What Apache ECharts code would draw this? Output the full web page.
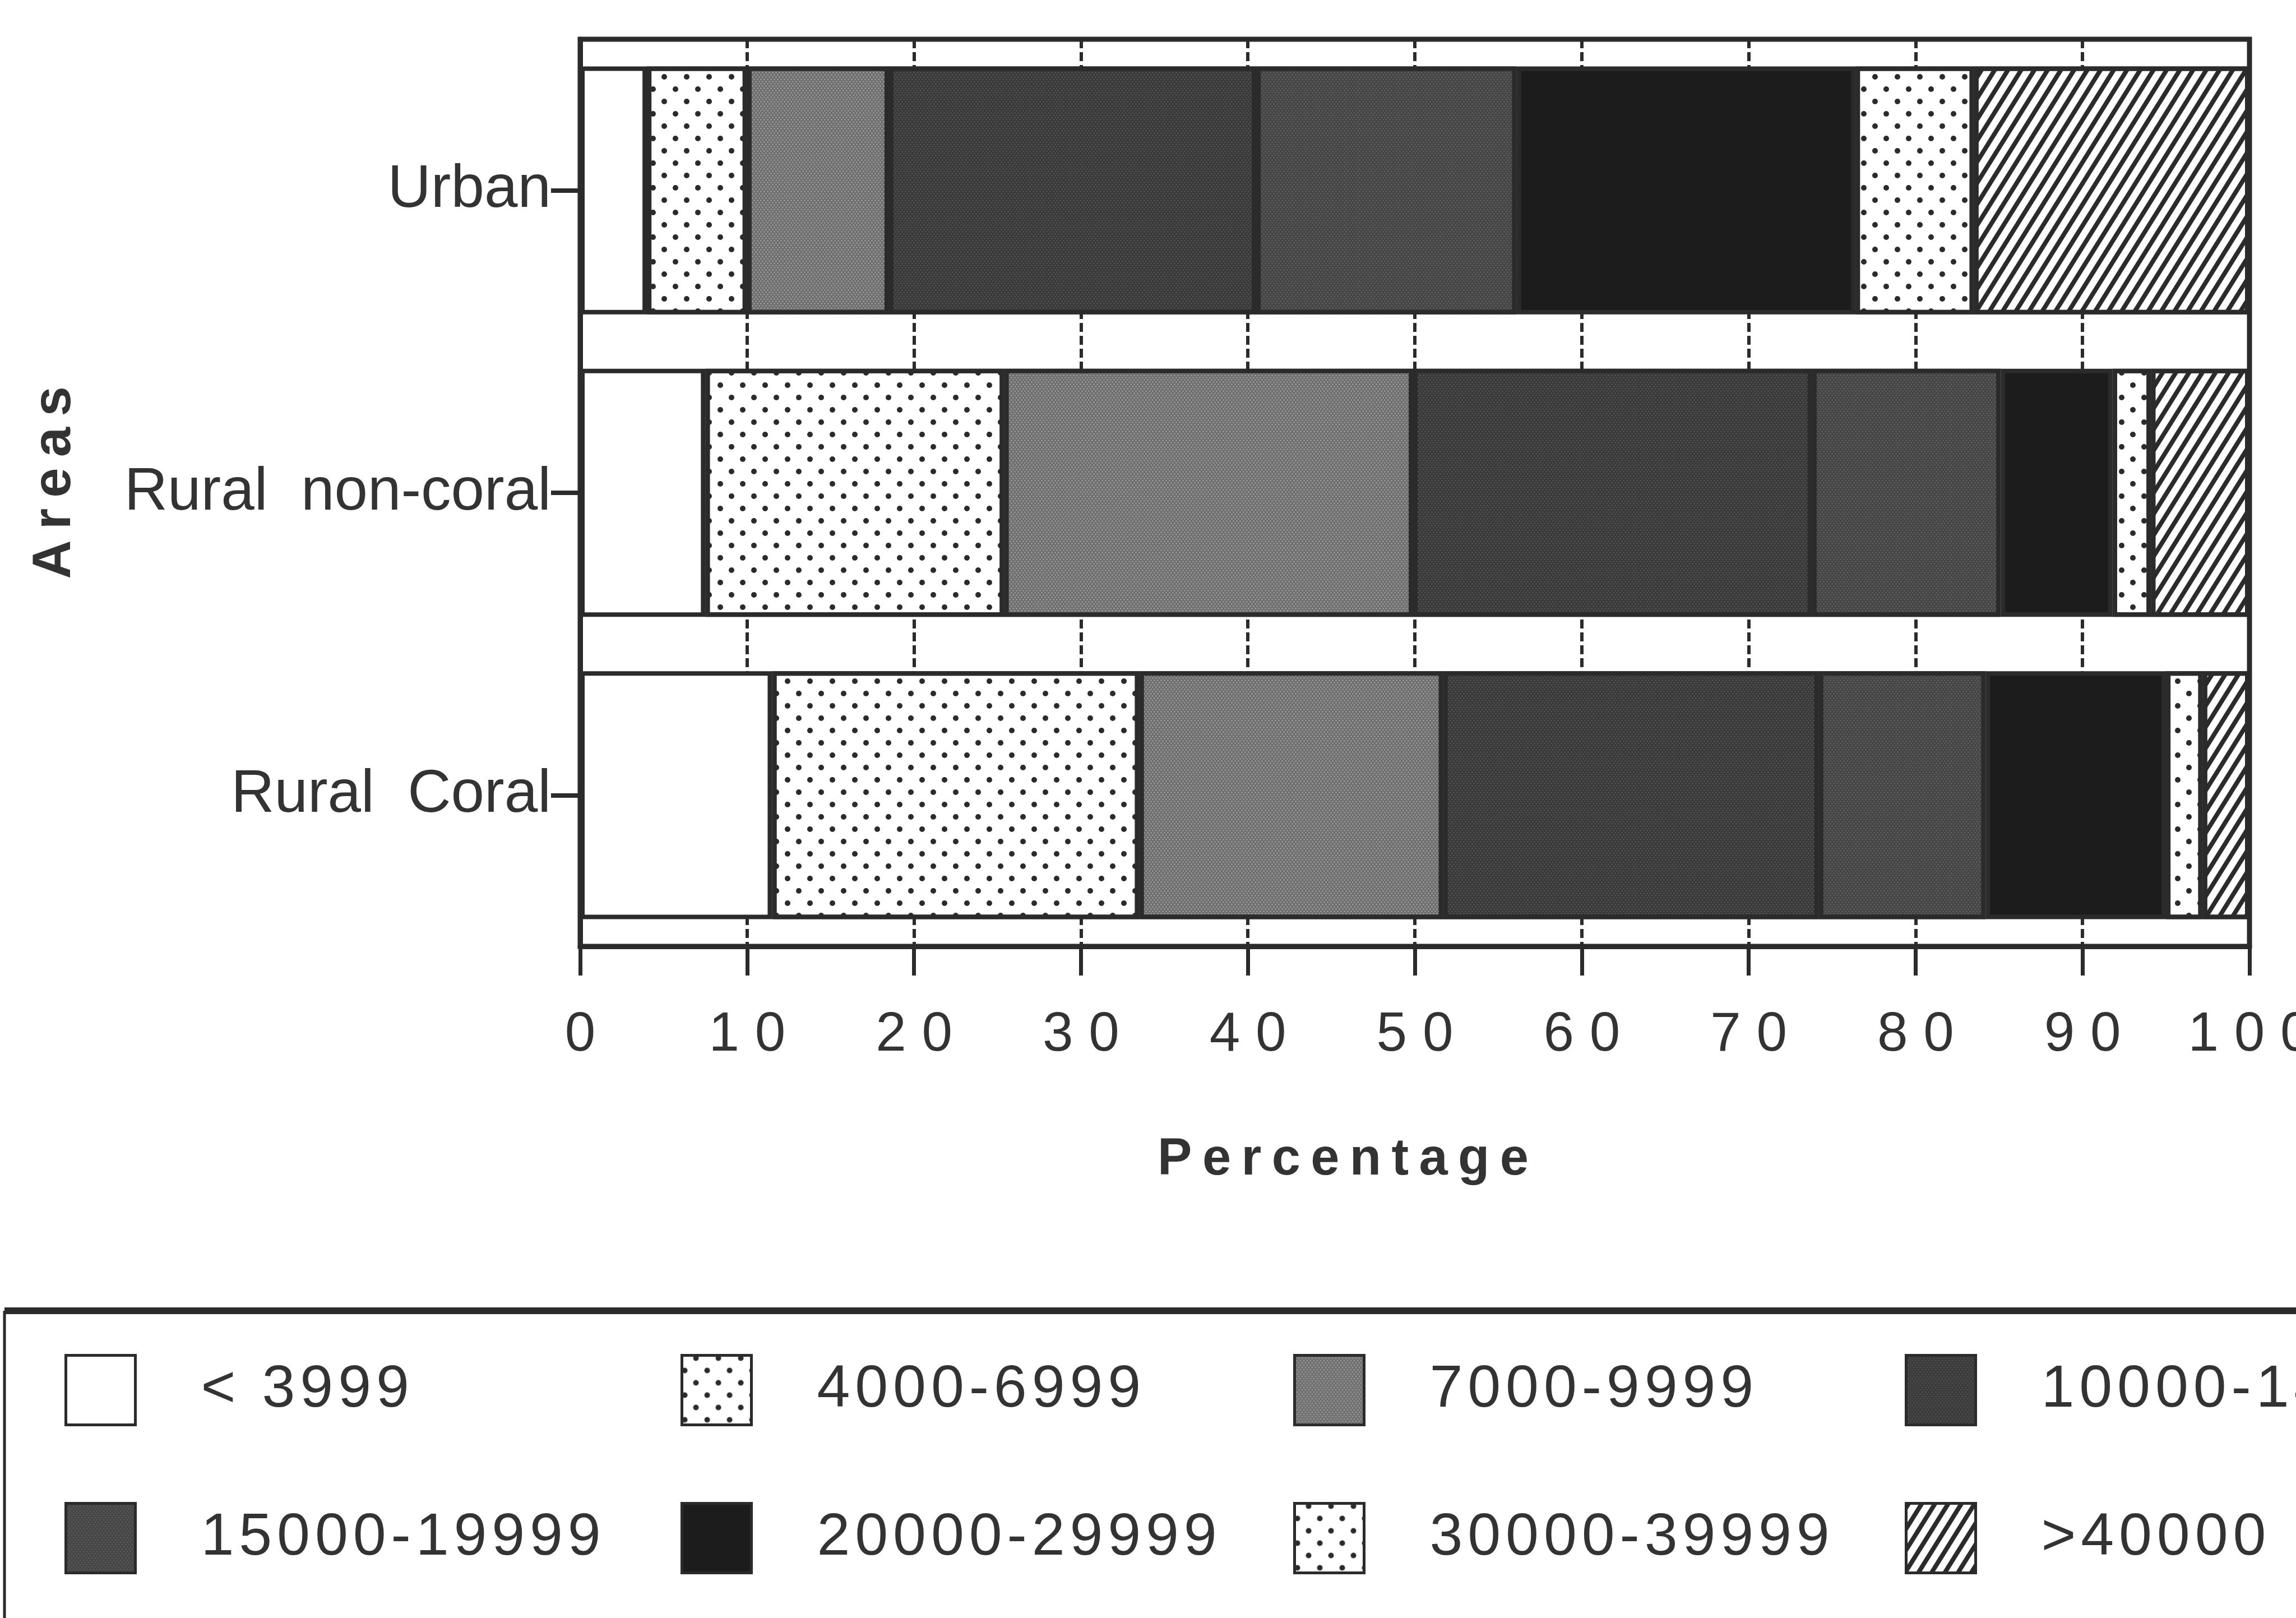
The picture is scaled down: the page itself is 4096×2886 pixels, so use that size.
<!DOCTYPE html>
<html>
<head>
<meta charset="utf-8">
<script src="https://cdn.jsdelivr.net/npm/echarts@6/dist/echarts.min.js"></script>
<style>
  html, body { margin: 0; padding: 0; background: #ffffff; }
  #chart { width: 4096px; height: 2886px; }
</style>
</head>
<body>
<div id="chart"></div>
<script>
// Household income classes by area (percent of households)
const categories = ['Urban', 'Rural  non-coral', 'Rural  Coral'];
const incomeClasses = ['< 3999', '4000-6999', '7000-9999', '10000-14999',
                       '15000-19999', '20000-29999', '30000-39999', '>40000'];
const under3999   = [4.0, 7.5, 11.5];
const inc4000     = [6.0, 17.9, 22.0];
const inc7000     = [8.5, 24.5, 18.2];
const inc10000    = [22.0, 23.9, 22.5];
const inc15000    = [15.6, 11.3, 10.0];
const inc20000    = [20.3, 6.7, 10.8];
const inc30000    = [7.1, 2.3, 2.2];
const over40000   = [16.5, 5.9, 2.8];
const xTicks = [0, 10, 20, 30, 40, 50, 60, 70, 80, 90, 100];

const seriesValues = [under3999, inc4000, inc7000, inc10000, inc15000, inc20000, inc30000, over40000];

const INK = '#2b2b2b';
const TEXT = '#333333';
const FONT = '"Liberation Sans", Arial, Helvetica, sans-serif';

// spread characters apart with narrow spaces
function spaced(s, sep) { return String(s).split('').join(sep); }

// fill styles: base colour plus an optional decal texture
const dots = { symbol: 'circle', symbolSize: 1, color: INK,
  dashArrayX: [[10, 30], [0, 20, 10, 10]], dashArrayY: [10, 12] };
const fineLight = (c) => ({ symbol: 'circle', symbolSize: 0.9, color: c,
  dashArrayX: [[3, 3], [0, 3, 3, 0]], dashArrayY: [3, 1] });
const hatch = { symbol: 'rect', symbolSize: 1, color: INK,
  dashArrayX: [1, 0], dashArrayY: [8, 12], rotation: -Math.PI * 58 / 180 };

const fills = [
  { color: '#ffffff', decal: null },
  { color: '#ffffff', decal: dots },
  { color: '#6e6e6e', decal: fineLight('#a2a2a2') },
  { color: '#393939', decal: fineLight('#585858') },
  { color: '#444444', decal: fineLight('#666666') },
  { color: '#1c1c1c', decal: null },
  { color: '#ffffff', decal: dots },
  { color: '#ffffff', decal: hatch }
];

const series = incomeClasses.map((name, i) => ({
  name: name,
  type: 'bar',
  stack: 'total',
  barCategoryGap: '18%',
  data: seriesValues[i],
  itemStyle: {
    color: fills[i].color,
    decal: fills[i].decal || undefined,
    borderColor: INK,
    borderWidth: 8
  },
  emphasis: { disabled: true }
}));

// legend laid out as four columns of two rows
const legendCols = [
  [incomeClasses[0], incomeClasses[4]],
  [incomeClasses[1], incomeClasses[5]],
  [incomeClasses[2], incomeClasses[6]],
  [incomeClasses[3], incomeClasses[7]]
];
const legendLeft = [110, 1209, 2302, 3393];
const legends = legendCols.map((col, k) => ({
  data: col,
  orient: 'vertical',
  left: legendLeft[k],
  top: 2410,
  itemGap: 135,
  itemWidth: 124,
  itemHeight: 124,
  icon: 'rect',
  selectedMode: false,
  itemStyle: { borderWidth: 5, borderColor: INK },
  formatter: (n) => spaced(n, '\u200A'),
  textStyle: { fontSize: 106, color: TEXT, fontFamily: FONT, padding: [20, 0, 0, 112] }
}));

const chart = echarts.init(document.getElementById('chart'), null, { renderer: 'canvas' });
chart.setOption({
  backgroundColor: '#ffffff',
  animation: false,
  aria: { enabled: false },
  grid: {
    left: 1035, right: 83, top: 70, bottom: 1198,
    containLabel: false, outerBoundsMode: 'none',
    show: true, borderColor: INK, borderWidth: 9, backgroundColor: 'transparent'
  },
  xAxis: {
    type: 'value',
    min: xTicks[0], max: xTicks[xTicks.length - 1], interval: 10,
    axisLine: { show: true, lineStyle: { color: INK, width: 9 } },
    axisTick: { show: true, length: 52, lineStyle: { color: INK, width: 7 } },
    axisLabel: {
      margin: 110, fontSize: 98, color: TEXT, fontFamily: FONT,
      formatter: (v) => spaced(v, '\u2009\u200A')
    },
    splitLine: { show: true, lineStyle: { color: INK, width: 6, type: [16, 7] } }
  },
  yAxis: {
    type: 'category',
    inverse: true,
    data: categories,
    axisLine: { show: true, lineStyle: { color: INK, width: 9 } },
    axisTick: { show: true, alignWithLabel: true, length: 52, lineStyle: { color: INK, width: 8 } },
    axisLabel: { margin: 52, fontSize: 107, color: TEXT, fontFamily: FONT },
    splitLine: { show: false }
  },
  legend: legends,
  series: series,
  graphic: [
    { type: 'text', x: 2396, y: 2070, silent: true,
      style: { text: spaced('Percentage', '\u2009'), align: 'center', verticalAlign: 'middle',
               font: 'bold 92px ' + FONT, fill: TEXT } },
    { type: 'text', x: 99, y: 861, rotation: Math.PI / 2, silent: true,
      style: { text: spaced('Areas', '\u2009'), align: 'center', verticalAlign: 'middle',
               font: 'bold 96px ' + FONT, fill: TEXT } },
    { type: 'line', silent: true, shape: { x1: 8, y1: 2338, x2: 4200, y2: 2338 },
      style: { stroke: INK, lineWidth: 12 } },
    { type: 'line', silent: true, shape: { x1: 8, y1: 2338, x2: 8, y2: 2990 },
      style: { stroke: INK, lineWidth: 5 } }
  ]
});
</script>
</body>
</html>
